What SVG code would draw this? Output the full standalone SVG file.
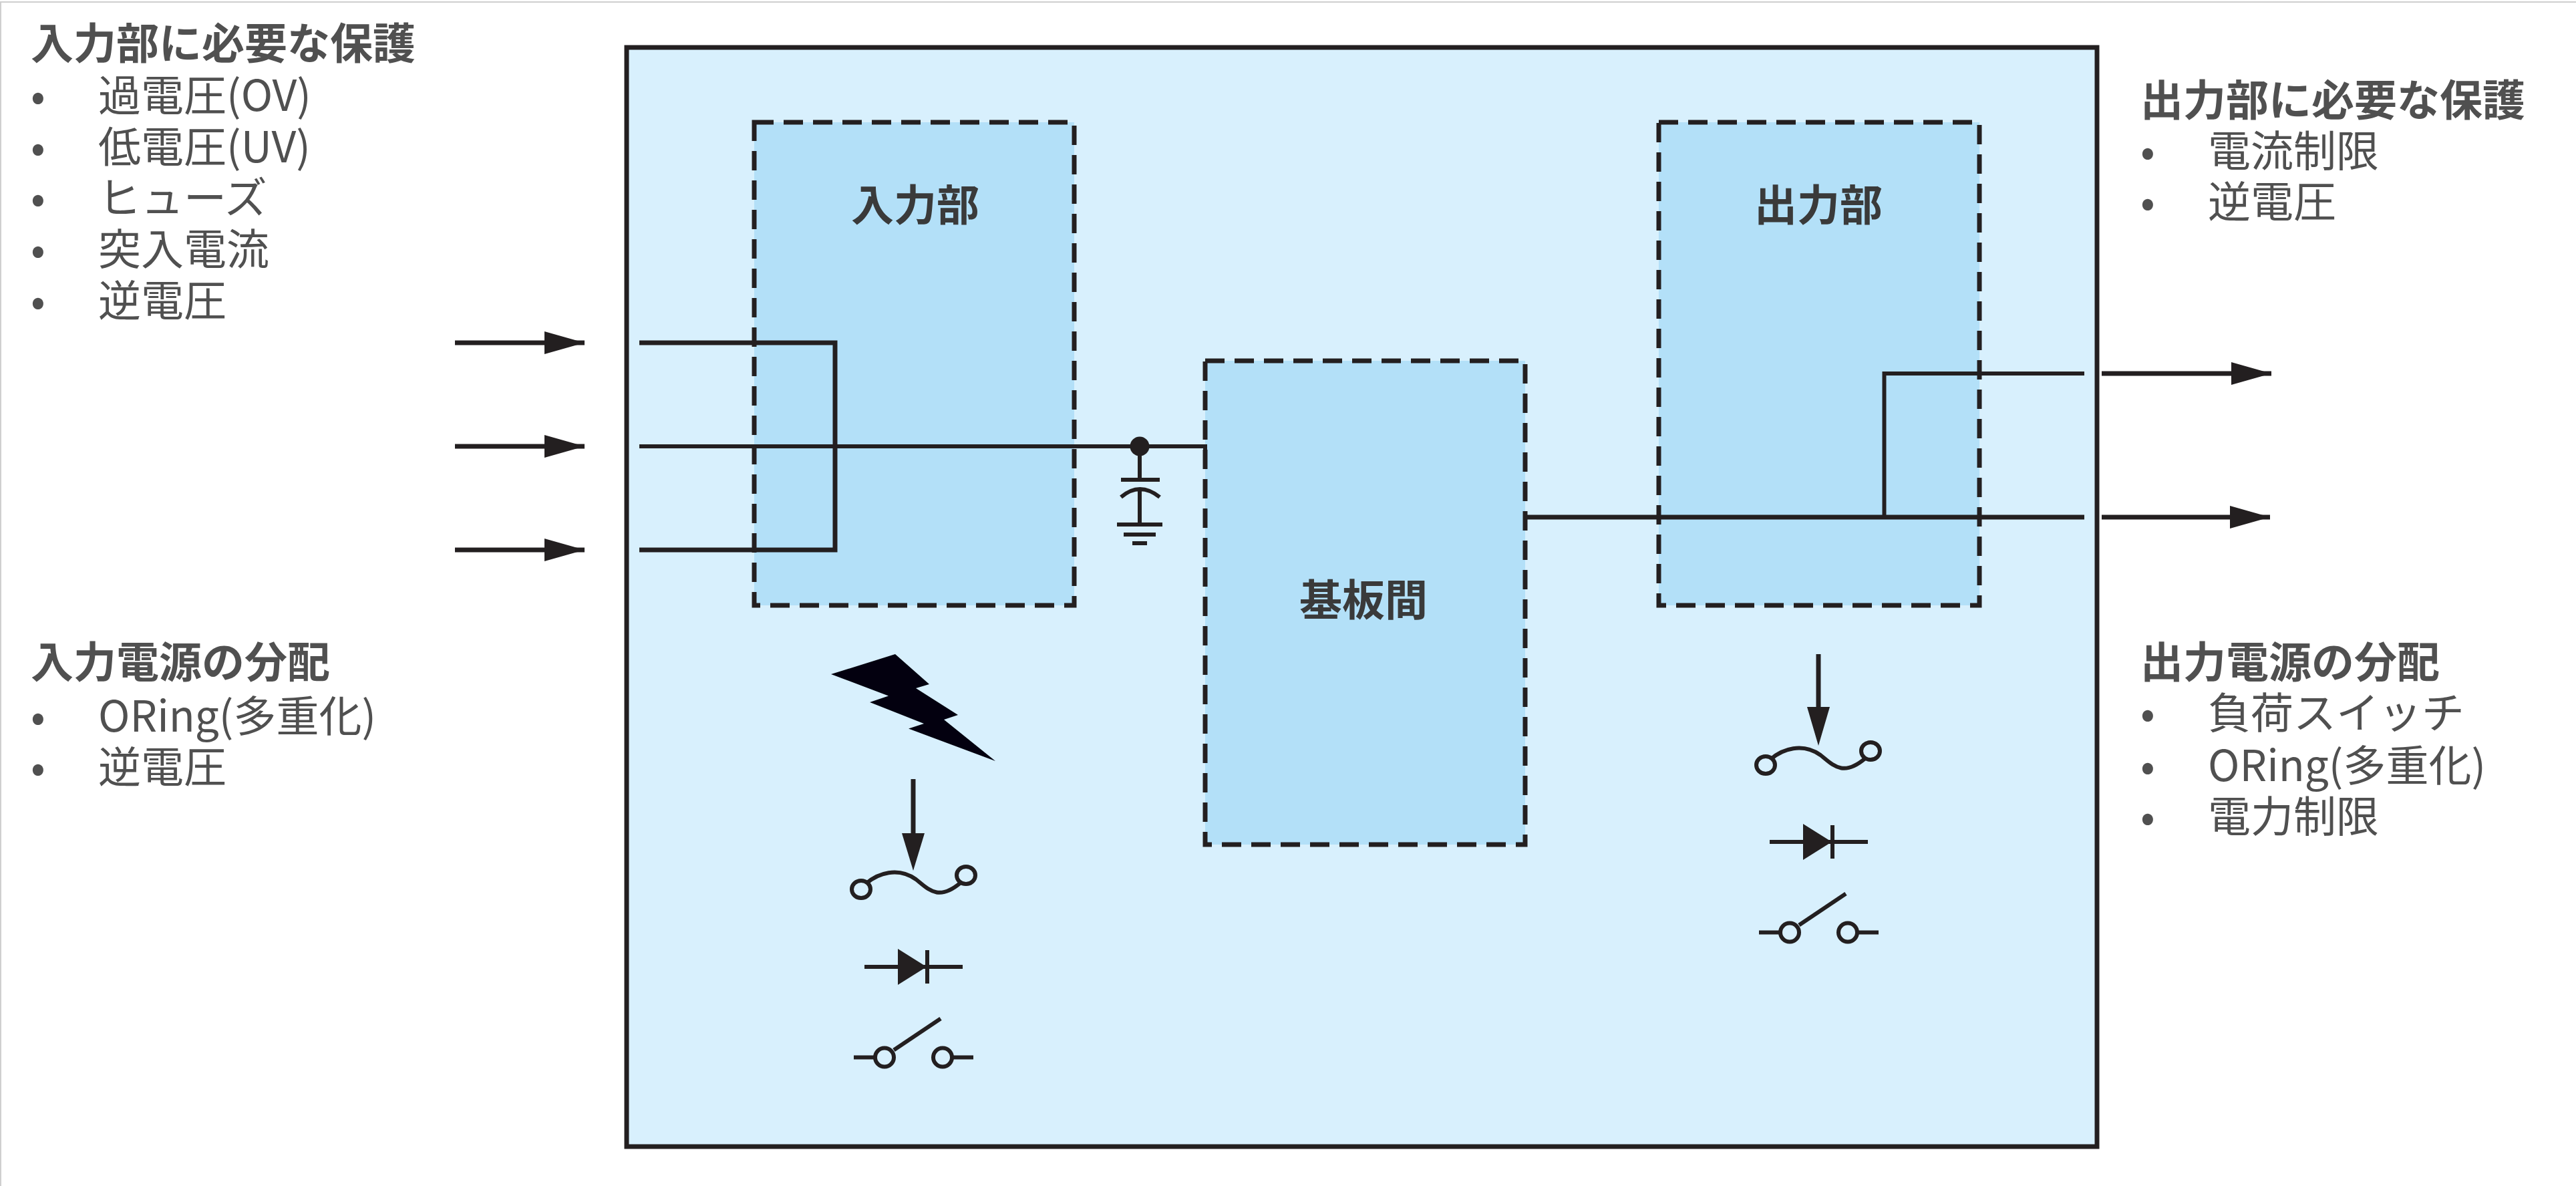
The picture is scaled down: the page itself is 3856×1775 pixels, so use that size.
<svg xmlns="http://www.w3.org/2000/svg" width="3856" height="1775" viewBox="0 0 3856 1775">
<style>
text{font-family:"Noto Sans CJK JP","Noto Sans",sans-serif;font-size:64px;fill:#505050}
.t{font-weight:700}
.l{font-weight:700;fill:#3a3a3a;text-anchor:middle}
.b{fill:#d8f0fd;stroke:#231f20;stroke-width:7}
.d{fill:#b3e0f8;stroke:#231f20;stroke-width:7;stroke-dasharray:29 15}
.w{fill:none;stroke:#231f20;stroke-width:6}
.s{fill:none;stroke:#231f20;stroke-width:6}
.f{fill:#231f20}
.k{fill:#03000f}
</style>
<defs>
<marker id="a" markerUnits="userSpaceOnUse" markerWidth="62" markerHeight="34" refX="60" refY="17" orient="auto"><path d="M0 0L60 17L0 34Z" fill="#231f20"/></marker>
<g id="fuse"><path d="M8 -9C25 -24 55 -34 82 -15C100 -1 115 19 149 -10" class="s"/><ellipse cx="0" cy="0" rx="14" ry="13" class="s"/><ellipse cx="157" cy="-21" rx="14" ry="13" class="s"/></g>
<g id="diode"><path d="M0 0H147" class="s"/><path d="M50 -27L93 0L50 27Z" class="f"/><path d="M94 -25V25" class="s"/></g>
<g id="sw"><path d="M0 0H32M147 0H179" class="s"/><circle cx="46" cy="0" r="14" class="s"/><circle cx="133" cy="0" r="14" class="s"/><path d="M60 -11L130 -58" class="s"/></g>
</defs>
<rect x="0" y="0" width="3856" height="1775" fill="#fff"/>
<path d="M1 1775V3H3856" fill="none" stroke="#cfcfcf" stroke-width="2"/>
<g id="enclosure"><rect x="938" y="71" width="2201" height="1645" class="b"/></g>
<g id="input-block"><rect x="1129" y="183" width="479" height="723" class="d"/><text x="1370" y="330" class="l">入力部</text></g>
<g id="board-block"><rect x="1804" y="540" width="479" height="724" class="d"/><text x="2041" y="921" class="l">基板間</text></g>
<g id="output-block"><rect x="2483" y="183" width="480" height="723" class="d"/><text x="2722" y="330" class="l">出力部</text></g>
<g id="connectors">
<path d="M681 513H875" class="w" marker-end="url(#a)" style="stroke-width:7"/>
<path d="M681 668H875" class="w" marker-end="url(#a)" style="stroke-width:7"/>
<path d="M681 823H875" class="w" marker-end="url(#a)" style="stroke-width:7"/>
<path d="M957 513H1250V823H957" class="w" style="stroke-width:7"/>
<path d="M957 668H1804V683" class="w"/>
<path d="M2284 774H3120" class="w" style="stroke-width:7"/>
<path d="M2820.500 774V559H3120" class="w"/>
<path d="M3146 559H3400" class="w" marker-end="url(#a)" style="stroke-width:7"/>
<path d="M3146 774H3398" class="w" marker-end="url(#a)" style="stroke-width:7"/>
</g>
<g id="capacitor"><circle cx="1706" cy="668" r="14.500" class="f"/><path d="M1706 668V718M1678 718H1736M1678 744Q1706 720 1736 744M1706 732V785M1672 785H1740M1682 800H1730M1695 813H1717" class="s"/></g>
<g id="lightning"><path d="M1244 1009L1340 979L1391 1024L1371 1030L1434 1070L1413 1077L1490 1139L1360 1090.500L1383 1083L1302 1051L1330 1041.500Z" class="k"/></g>
<g id="input-protection">
<path d="M1367 1166V1250" class="s" style="stroke-width:7"/><path d="M1350 1247H1384L1367 1303Z" class="f"/>
<use href="#fuse" x="1289" y="1331"/><use href="#diode" x="1294" y="1447"/><use href="#sw" x="1278" y="1582.500"/>
</g>
<g id="output-protection">
<path d="M2722 979V1060" class="s" style="stroke-width:7"/><path d="M2705 1058H2739L2722 1116Z" class="f"/>
<use href="#fuse" x="2643" y="1145"/><use href="#diode" x="2649" y="1260"/><use href="#sw" x="2633" y="1395.500"/>
</g>
<g id="input-notes">
<text x="46" y="88" class="t">入力部に必要な保護</text>
<text x="46" y="166">•</text><text x="147" y="166">過電圧(OV)</text>
<text x="46" y="243">•</text><text x="147" y="243">低電圧(UV)</text>
<text x="46" y="319">•</text><text x="147" y="319">ヒューズ</text>
<text x="46" y="396">•</text><text x="147" y="396">突入電流</text>
<text x="46" y="473">•</text><text x="147" y="473">逆電圧</text>
<text x="46" y="1014" class="t">入力電源の分配</text>
<text x="46" y="1095">•</text><text x="147" y="1095">ORing(多重化)</text>
<text x="46" y="1171">•</text><text x="147" y="1171">逆電圧</text>
</g>
<g id="output-notes">
<text x="3204" y="173" class="t">出力部に必要な保護</text>
<text x="3204" y="249">•</text><text x="3305" y="249">電流制限</text>
<text x="3204" y="325">•</text><text x="3305" y="325">逆電圧</text>
<text x="3204" y="1014" class="t">出力電源の分配</text>
<text x="3204" y="1090">•</text><text x="3305" y="1090">負荷スイッチ</text>
<text x="3204" y="1169">•</text><text x="3305" y="1169">ORing(多重化)</text>
<text x="3204" y="1245">•</text><text x="3305" y="1245">電力制限</text>
</g>
</svg>
